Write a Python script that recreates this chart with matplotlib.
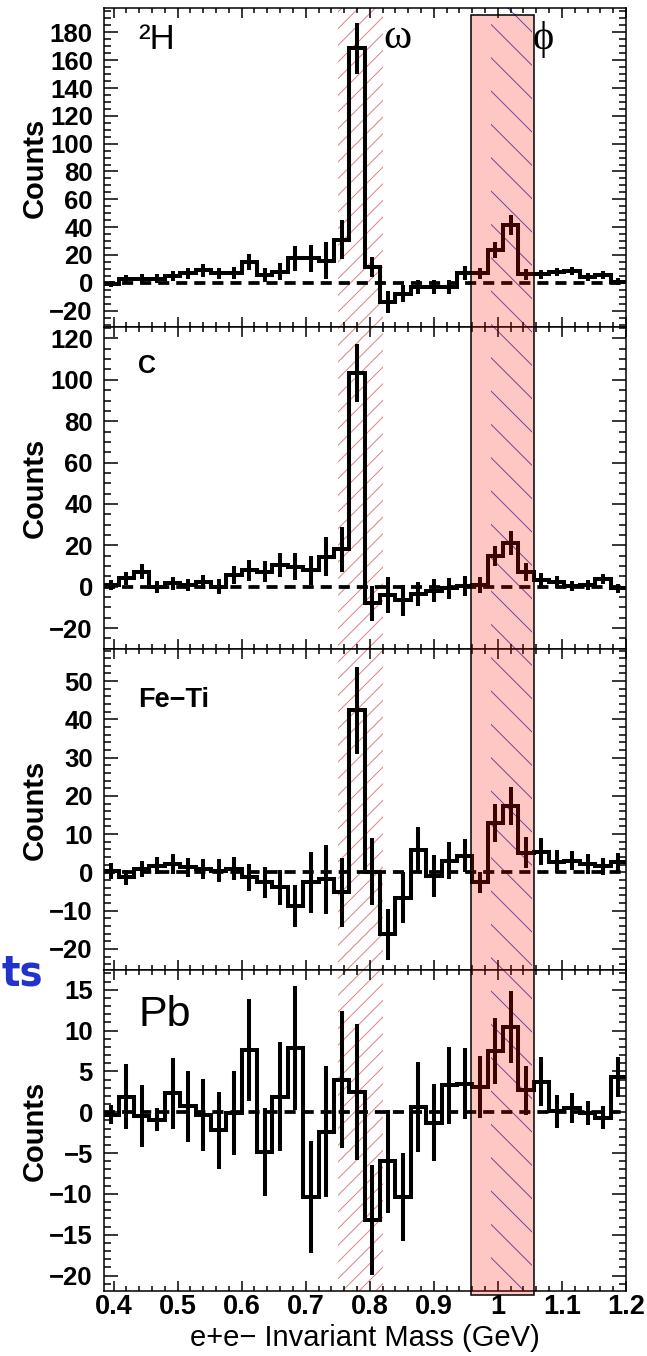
import numpy as np
import matplotlib
matplotlib.use('Agg')
import matplotlib.pyplot as plt
from matplotlib.patches import Rectangle
from matplotlib import transforms
from matplotlib.ticker import MultipleLocator, FuncFormatter

plt.rcParams['font.family'] = ['Liberation Sans', 'DejaVu Sans']
plt.rcParams['font.weight'] = 'bold'
plt.rcParams['xtick.labelsize'] = 19.5
plt.rcParams['ytick.labelsize'] = 18.5
plt.rcParams['lines.scale_dashes'] = False
plt.rcParams['hatch.linewidth'] = 0.7

# histogram binning: 0.024 GeV bins, visible part starts at 0.384 GeV
bin_width = 0.024
edges = np.round(0.384 + bin_width * np.arange(35), 3)
centers = 0.5 * (edges[:-1] + edges[1:])

h2_counts = [-1, 2.4, 3, 3, 5, 7, 9, 7, 7, 15, 5.5, 8, 17.5, 17.5, 16, 31, 168.5, 11.5,
             -13.7, -7.7, -3, -3, -3, 7, 7, 23.5, 41.5, 6, 6, 8, 8.6, 4.3, 5.5, 0.7]
h2_errors = [2, 3, 3, 3, 3.5, 4, 4.5, 4, 4.5, 6, 5, 6, 9, 10, 13, 14, 18.5, 7,
             8, 6, 5, 5, 5, 5, 4, 6, 7, 4, 3.5, 3, 3, 3, 3, 2.5]

c_counts = [0.8, 4, 7.3, 0, 1.6, 0.8, 2.4, 0, 5.6, 8, 7.3, 10.5, 9.7, 8, 14.5, 18, 103.4, -8,
            -4, -6.5, -3.5, -2, -0.8, 0.3, 0.8, 14.9, 21, 7.3, 3.2, 2.4, 0.3, 0.8, 3.6, -0.8]
c_errors = [2.5, 3, 3.5, 3, 3, 3, 3.5, 3.5, 4.5, 5, 5, 6, 6.5, 7, 9.5, 11, 14, 8.5,
            8.5, 7.5, 6, 5.5, 5, 5, 4, 5, 5.7, 4.4, 3.5, 3, 2.5, 2.5, 2.5, 2]

feti_counts = [0.4, -1.3, 0.9, 1.75, 2.2, 1.3, 0.9, 0.4, 0.9, -1.3, -2.6, -3.9, -8.7, -2.6, -1.75, -5.2, 42.4, 0.2,
               -16.2, -6.6, 5.9, -0.9, 3.1, 4.4, -2.6, 12.9, 17.3, 5.2, 5.4, 2.8, 3.1, 2.2, 1.6, 2.6]
feti_errors = [2, 2, 2, 2.2, 2.5, 2.5, 2.7, 3, 3, 3.5, 4, 4.5, 5.5, 8, 9, 9, 11.4, 8.8,
               6.7, 6.6, 6, 5.5, 4.8, 4.4, 2.8, 5, 5, 4, 3.5, 3, 2.5, 2.5, 2.2, 2.6]

pb_counts = [-0.3, 1.9, -0.5, -0.9, 2.3, 0.7, -0.3, -2.2, -0.1, 7.6, -4.9, 1.9, 7.9, -10.4, -2.4, 4.0, 2.5, -13.2,
             -6.0, -10.4, 0.6, -1.3, 3.3, 3.5, 3.1, 7.5, 10.4, 2.7, 3.7, 0.1, 0.5, -0.1, -0.7, 4.3]
pb_errors = [1.2, 4, 3.8, 1.4, 4.3, 4.3, 4.4, 4.7, 5.1, 6.2, 5.4, 6.7, 7.6, 6.9, 8, 8.4, 8.3, 6.7,
             6.3, 5.4, 5.5, 4.7, 4.7, 4.3, 3.8, 4, 4.4, 3, 3, 2, 1.8, 1.5, 1.4, 2.4]

targets = ['²H', 'C', 'Fe−Ti', 'Pb']
all_counts = [h2_counts, c_counts, feti_counts, pb_counts]
all_errors = [h2_errors, c_errors, feti_errors, pb_errors]
ylims = [(-31.8, 197.5), (-30.1, 125.5), (-25.5, 58.4), (-21.9, 17.4)]
major_steps = [20, 20, 10, 5]
minor_steps = [5, 5, 2, 1]

omega_window = (0.75, 0.82)
phi_window = (0.99, 1.054)
phi_box = (0.958, 1.057)

# panel layout (figure fractions)
panel_bottoms = [0.7588, 0.5214, 0.2847, 0.0479]
panel_heights = [0.2353, 0.2374, 0.2367, 0.2367]
label_sizes = [25, 18, 19.5, 31]
label_weights = ['normal', 'bold', 'bold', 'normal']
label_y = [0.872, 0.858, 0.82, 0.827]

fig = plt.figure(figsize=(6.47, 13.56), dpi=100)
axes = []
for k in range(4):
    ax = fig.add_axes([0.1607, panel_bottoms[k], 0.8068, panel_heights[k]])
    axes.append(ax)
    ax.axvspan(*omega_window, facecolor='none', edgecolor='#e08080', hatch='//', lw=0, zorder=0)
    ax.axvspan(*phi_window, facecolor='none', edgecolor='#4a55c8', hatch='\\', lw=0, zorder=0)
    ax.axhline(0, color='k', lw=2.7, dashes=(8, 5), zorder=1)
    ax.stairs(all_counts[k], edges, baseline=None, color='k', lw=2.9, zorder=2)
    ax.errorbar(centers, all_counts[k], yerr=all_errors[k], fmt='none', ecolor='k',
                elinewidth=2.9, zorder=2)

    ax.set_xlim(0.385, 1.2)
    ax.set_ylim(*ylims[k])
    ax.xaxis.set_major_locator(MultipleLocator(0.1))
    ax.xaxis.set_minor_locator(MultipleLocator(0.02))
    ax.yaxis.set_major_locator(MultipleLocator(major_steps[k]))
    ax.yaxis.set_minor_locator(MultipleLocator(minor_steps[k]))
    ax.xaxis.set_major_formatter(FuncFormatter(lambda v, p: '%g' % round(v, 2)))
    ax.tick_params(which='both', direction='in', top=True, right=True, width=1.1)
    ax.tick_params(axis='x', which='major', length=7.5, pad=2)
    ax.tick_params(axis='x', which='minor', length=3.8)
    ax.tick_params(axis='y', which='major', length=10, pad=8)
    ax.tick_params(axis='y', which='minor', length=5)
    for s in ax.spines.values():
        s.set_linewidth(1.1)

    ax.set_ylabel('Counts', fontsize=21, fontweight='bold')
    ax.yaxis.set_label_coords(-0.105, 0.5)
    ax.text(0.066, label_y[k], targets[k], transform=ax.transAxes, fontsize=label_sizes[k],
            fontweight=label_weights[k], ha='left', va='baseline')
    if k < 3:
        ax.tick_params(labelbottom=False)

axes[-1].set_xlabel('e+e− Invariant Mass (GeV)', fontsize=21, fontweight='normal', labelpad=3)

# resonance labels on the top panel
tr = transforms.blended_transform_factory(axes[0].transData, axes[0].transAxes)
axes[0].text(0.843, 0.875, 'ω', transform=tr, family=['Liberation Serif', 'DejaVu Serif'],
             fontsize=31, fontweight='normal', ha='center', va='baseline')
axes[0].text(1.07, 0.9, 'ϕ', transform=tr, family=['Liberation Serif', 'DejaVu Serif'],
             fontsize=29, fontweight='normal', ha='center', va='center')

# highlight box over the phi region, across all panels
trf = transforms.blended_transform_factory(axes[-1].transData, fig.transFigure)
fig.add_artist(Rectangle((phi_box[0], 0.045), phi_box[1] - phi_box[0], 0.944, transform=trf,
                         facecolor=(1, 0.08, 0, 0.235), edgecolor='k', lw=1.1, zorder=10))

fig.text(2 / 647, 1 - 986 / 1356, 'ts', ha='left', va='baseline', color='#2233cc',
         fontsize=31, fontweight='heavy', family=['DejaVu Sans'], fontstretch='condensed')

fig.savefig('out.png', dpi=100)
plt.close()
